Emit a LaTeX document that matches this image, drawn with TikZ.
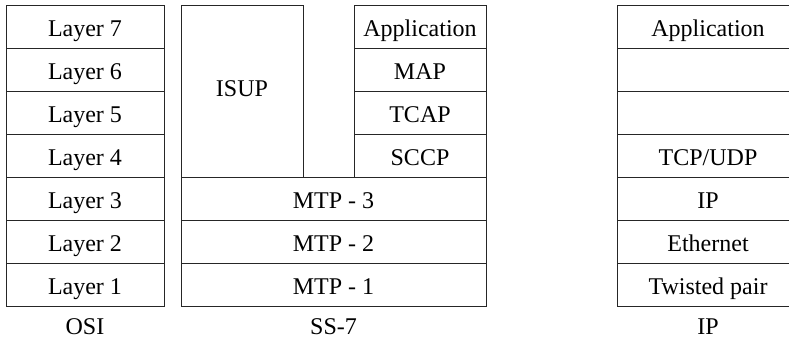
\documentclass[tikz,border=0pt]{standalone}
\usepackage{fontspec}
\setmainfont{Liberation Serif}
\begin{document}
\begin{tikzpicture}[x=1pt,y=-1pt,
  txt/.style={font=\fontsize{24}{28}\selectfont},
  layer/.style={txt, draw=black!85, line width=1pt, rectangle, inner sep=0pt,
    minimum height=43pt, text height=19pt, text depth=0pt},
  caption/.style={txt, anchor=base, inner sep=0pt}]
\clip (0,0) rectangle (789,339);
% OSI
\foreach \i/\t in {0/Layer 7,1/Layer 6,2/Layer 5,3/Layer 4,4/Layer 3,5/Layer 2,6/Layer 1}
  \node[layer, minimum width=158pt] (osi\i) at (85,{27+43*\i}) {\t};
\node[caption] (osilbl) at (85,334) {OSI};
% SS-7
\node[layer, minimum width=122pt, minimum height=172pt, text height=11pt] (isup) at (242,91.5) {ISUP};
\foreach \i/\t in {0/Application,1/MAP,2/TCAP,3/SCCP}
  \node[layer, minimum width=132pt] (ss\i) at (420,{27+43*\i}) {\t};
\foreach \i/\t in {4/MTP - 3,5/MTP - 2,6/MTP - 1}
  \node[layer, minimum width=305pt] (ss\i) at (333.5,{27+43*\i}) {\t};
\node[caption] (sslbl) at (333.5,334) {SS-7};
% IP
\foreach \i/\t in {0/Application,1/{},2/{},3/{TCP/UDP},4/IP,5/Ethernet,6/Twisted pair}
  \node[layer, minimum width=182pt] (ip\i) at (708,{27+43*\i}) {\t};
\node[caption] (iplbl) at (708,334) {IP};
\end{tikzpicture}
\end{document}
